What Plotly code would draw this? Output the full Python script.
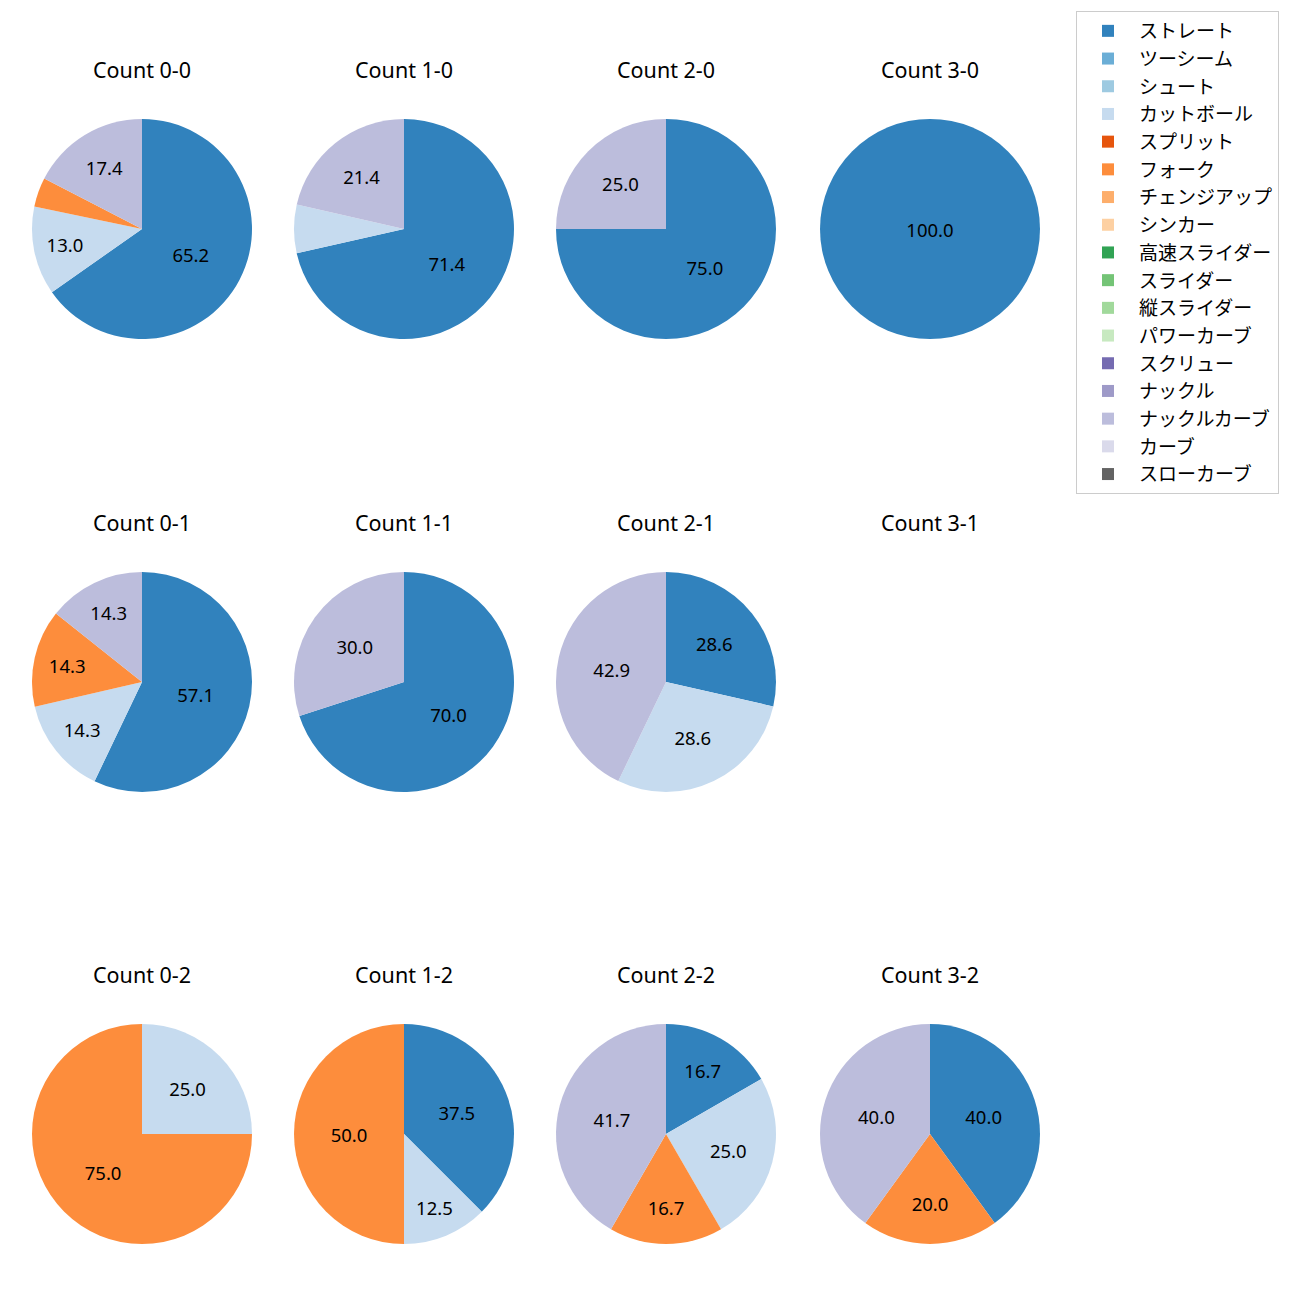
import plotly.graph_objects as go

pitch_types = ["ストレート", "ツーシーム", "シュート", "カットボール", "スプリット", "フォーク",
               "チェンジアップ", "シンカー", "高速スライダー", "スライダー", "縦スライダー",
               "パワーカーブ", "スクリュー", "ナックル", "ナックルカーブ", "カーブ", "スローカーブ"]
colors = ["#3182bd", "#6baed6", "#9ecae1", "#c6dbef", "#e6550d", "#fd8d3c", "#fdae6b", "#fdd0a2",
          "#31a354", "#74c476", "#a1d99b", "#c7e9c0", "#756bb1", "#9e9ac8", "#bcbddc", "#dadaeb",
          "#636363"]

counts = ["0-0", "1-0", "2-0", "3-0",
          "0-1", "1-1", "2-1", "3-1",
          "0-2", "1-2", "2-2", "3-2"]

# percentage shares per count (pitch type -> percent)
share_00 = {"ストレート": 65.2, "カットボール": 13.0, "フォーク": 4.3, "ナックルカーブ": 17.4}
share_10 = {"ストレート": 71.4, "カットボール": 7.1, "ナックルカーブ": 21.4}
share_20 = {"ストレート": 75.0, "ナックルカーブ": 25.0}
share_30 = {"ストレート": 100.0}
share_01 = {"ストレート": 57.1, "カットボール": 14.3, "フォーク": 14.3, "ナックルカーブ": 14.3}
share_11 = {"ストレート": 70.0, "ナックルカーブ": 30.0}
share_21 = {"ストレート": 28.6, "カットボール": 28.6, "ナックルカーブ": 42.9}
share_31 = {}
share_02 = {"カットボール": 25.0, "フォーク": 75.0}
share_12 = {"ストレート": 37.5, "カットボール": 12.5, "フォーク": 50.0}
share_22 = {"ストレート": 16.7, "カットボール": 25.0, "フォーク": 16.7, "ナックルカーブ": 41.7}
share_32 = {"ストレート": 40.0, "フォーク": 20.0, "ナックルカーブ": 40.0}

shares = [share_00, share_10, share_20, share_30,
          share_01, share_11, share_21, share_31,
          share_02, share_12, share_22, share_32]

W = H = 1300
OFF = 8  # page body offset
col_cx = [142, 404, 666, 930]
row_cy = [229, 682, 1134]
R = 110
title_dy = 160

FONT = "Noto Sans, Noto Sans CJK JP, DejaVu Sans, sans-serif"
JFONT = "Noto Sans CJK JP, Noto Sans, sans-serif"


def px(x):
    return (x - OFF) / W


def py(y):
    return 1 - (y - OFF) / H


fig = go.Figure()
annotations = []
first = True
for i, (cnt, sh) in enumerate(zip(counts, shares)):
    r, c = divmod(i, 4)
    cx, cy = col_cx[c], row_cy[r]
    annotations.append(dict(text=f"Count {cnt}", x=px(cx), y=py(cy - title_dy),
                            xref="paper", yref="paper", showarrow=False,
                            font=dict(size=21.5, color="#000000", family=FONT),
                            xanchor="center", yanchor="middle"))
    if not sh:
        continue
    if first:
        labels = pitch_types
        vals = [sh.get(p, 0) for p in pitch_types]
        first = False
    else:
        labels = [p for p in pitch_types if p in sh]
        vals = [sh[p] for p in labels]
    cols = [colors[pitch_types.index(p)] for p in labels]
    texts = [f"{v:.1f}" if v >= 10 else "" for v in vals]
    fig.add_trace(go.Pie(
        labels=labels, values=vals, text=texts, texttemplate="%{text}",
        textposition="inside", insidetextorientation="horizontal",
        textfont=dict(size=18.5, color="#000000", family=FONT),
        marker=dict(colors=cols, line=dict(width=0)),
        sort=False, direction="clockwise", rotation=0,
        domain=dict(x=[px(cx - R), px(cx + R)], y=[py(cy + R), py(cy - R)]),
        showlegend=True, hoverinfo="label+percent",
    ))

fig.update_layout(
    width=W, height=H,
    margin=dict(l=0, r=0, t=0, b=0),
    paper_bgcolor="white", plot_bgcolor="white",
    font=dict(family=FONT, size=16, color="#000000"),
    annotations=annotations,
    legend=dict(x=px(1076), y=py(11), xanchor="left", yanchor="top",
                bordercolor="#cccccc", borderwidth=1, bgcolor="white",
                font=dict(size=19, family=JFONT), traceorder="normal",
                itemwidth=52),
    uniformtext=dict(minsize=10, mode="show"),
)

fig.write_html("out.html")
